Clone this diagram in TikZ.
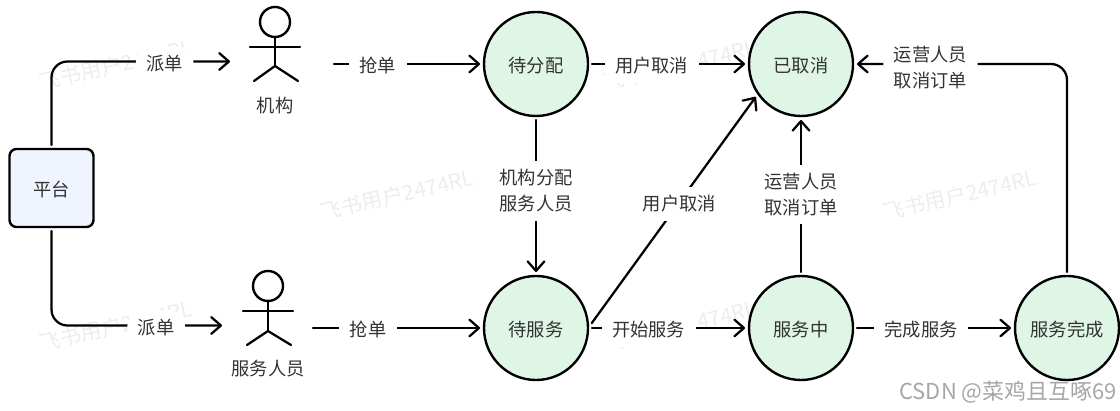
\documentclass[tikz,border=0pt]{standalone}
\usepackage{fontspec}
\setmainfont{Noto Sans CJK SC}
\usepackage{tikz}
\usetikzlibrary{arrows.meta}
\definecolor{statefill}{HTML}{DFF5E5}
\definecolor{boxfill}{HTML}{EFF4FF}
\definecolor{textgray}{HTML}{333333}
\tikzset{>={Straight Barb[round,length=2.4mm,width=4.2mm]}}
\tikzset{
  stat/.style={circle, draw, fill=statefill, line width=1.7pt, minimum size=2.6cm, inner sep=0pt, outer sep=2.8pt, text=textgray, text height=13.6pt, text depth=1.5pt, font=\fontsize{13}{18.5}\selectfont},
  platbox/.style={draw, fill=boxfill, rounded corners=5pt, line width=1.7pt, minimum width=2.1cm, minimum height=1.95cm, outer sep=2.8pt, text=textgray, text height=13.6pt, text depth=1.5pt, font=\fontsize{13}{18.5}\selectfont},
  head/.style={circle, draw, line width=1.7pt, minimum size=.75cm, inner sep=0pt},
  lbl/.style={fill=white, inner xsep=7.5pt, inner ysep=6pt, align=center, yshift=-1.2pt, text=textgray, font=\fontsize{13}{18.5}\selectfont},
  actorname/.style={text=textgray, font=\fontsize{13}{18.5}\selectfont},
  wm/.style={rotate=13, text=black!7, font=\fontsize{15}{18}\selectfont},
  csdn/.style={text=black!35, font=\fontsize{15.6}{18}\selectfont}
}
\begin{document}
\begin{tikzpicture}[x=.25mm, y=-.25mm, line width=1.6pt, line cap=round, line join=round]
\useasboundingbox (0,0) rectangle (1120,411);

% watermarks
\node[wm] (w1) at (116,65) {飞书用户2474RL};
\node[wm] (w2) at (397,195) {飞书用户2474RL};
\node[wm] (w3) at (680,65) {飞书用户2474RL};
\node[wm] (w4) at (960,195) {飞书用户2474RL};
\node[wm] (w5) at (116,326) {飞书用户2474RL};
\node[wm] (w6) at (680,326) {飞书用户2474RL};
\node[csdn] (mark) at (1008,392) {CSDN @菜鸡且互啄69};

\node[platbox] (pt) at (51.5,188) {平台};
\node[stat] (dfp) at (536,64) {待分配};
\node[stat] (yqx) at (801,64) {已取消};
\node[stat] (dfw) at (536,328) {待服务};
\node[stat] (fwz) at (801,328) {服务中};
\node[stat] (fwc) at (1067,328) {服务完成};

% actors
\node[head] (jg) at (275,22) {};
\draw (jg.south) -- (275,66);
\draw (250,47) -- (300,47);
\draw (254,81) -- (275,66) -- (298,81);
\node[actorname] (jgname) at (275,106) {机构};
\node[head] (ry) at (268,286) {};
\draw (ry.south) -- (268,331);
\draw (243,311) -- (293,311);
\draw (247,345) -- (268,331) -- (291,345);
\node[actorname] (ryname) at (268,369) {服务人员};

\coordinate (jgin) at (230,61.5);
\coordinate (ryin) at (222,325.5);
\coordinate (jgout) at (334,64);
\coordinate (ryout) at (313,328);

\draw [->, rounded corners=.4cm] (pt.north) |- node[lbl, pos=.817] (pd1) {派单} (jgin);
\draw [->, rounded corners=.4cm] (pt.south) |- node[lbl, pos=.807] (pd2) {派单} (ryin);
\draw [->] (jgout) -- node[lbl, pos=.3] (qd1) {抢单} (dfp.west);
\draw [->] (ryout) -- node[lbl, pos=.33] (qd2) {抢单} (dfw.west);
\draw [->] (dfp.east) -- node[lbl, pos=.39] (qx1) {用户取消} (yqx.west);
\draw [->] (dfp.south) -- node[lbl, pos=.456] (fp) {机构分配\\服务人员} (dfw.north);
\draw [->] (dfw.5) -- node[lbl, pos=.535] (qx2) {用户取消} (yqx.216);
\draw [->] (dfw.east) -- node[lbl, pos=.37] (ks) {开始服务} (fwz.west);
\draw [->] (fwz.north) -- node[lbl, pos=.52] (yy1) {运营人员\\取消订单} (yqx.south);
\draw [->] (fwz.east) -- node[lbl, pos=.417] (wc) {完成服务} (fwc.west);
\draw [->, rounded corners=.4cm] (fwc.north) |- node[lbl, pos=.825, yshift=-1pt] (yy2) {运营人员\\取消订单} (yqx.east);

\end{tikzpicture}
\end{document}
